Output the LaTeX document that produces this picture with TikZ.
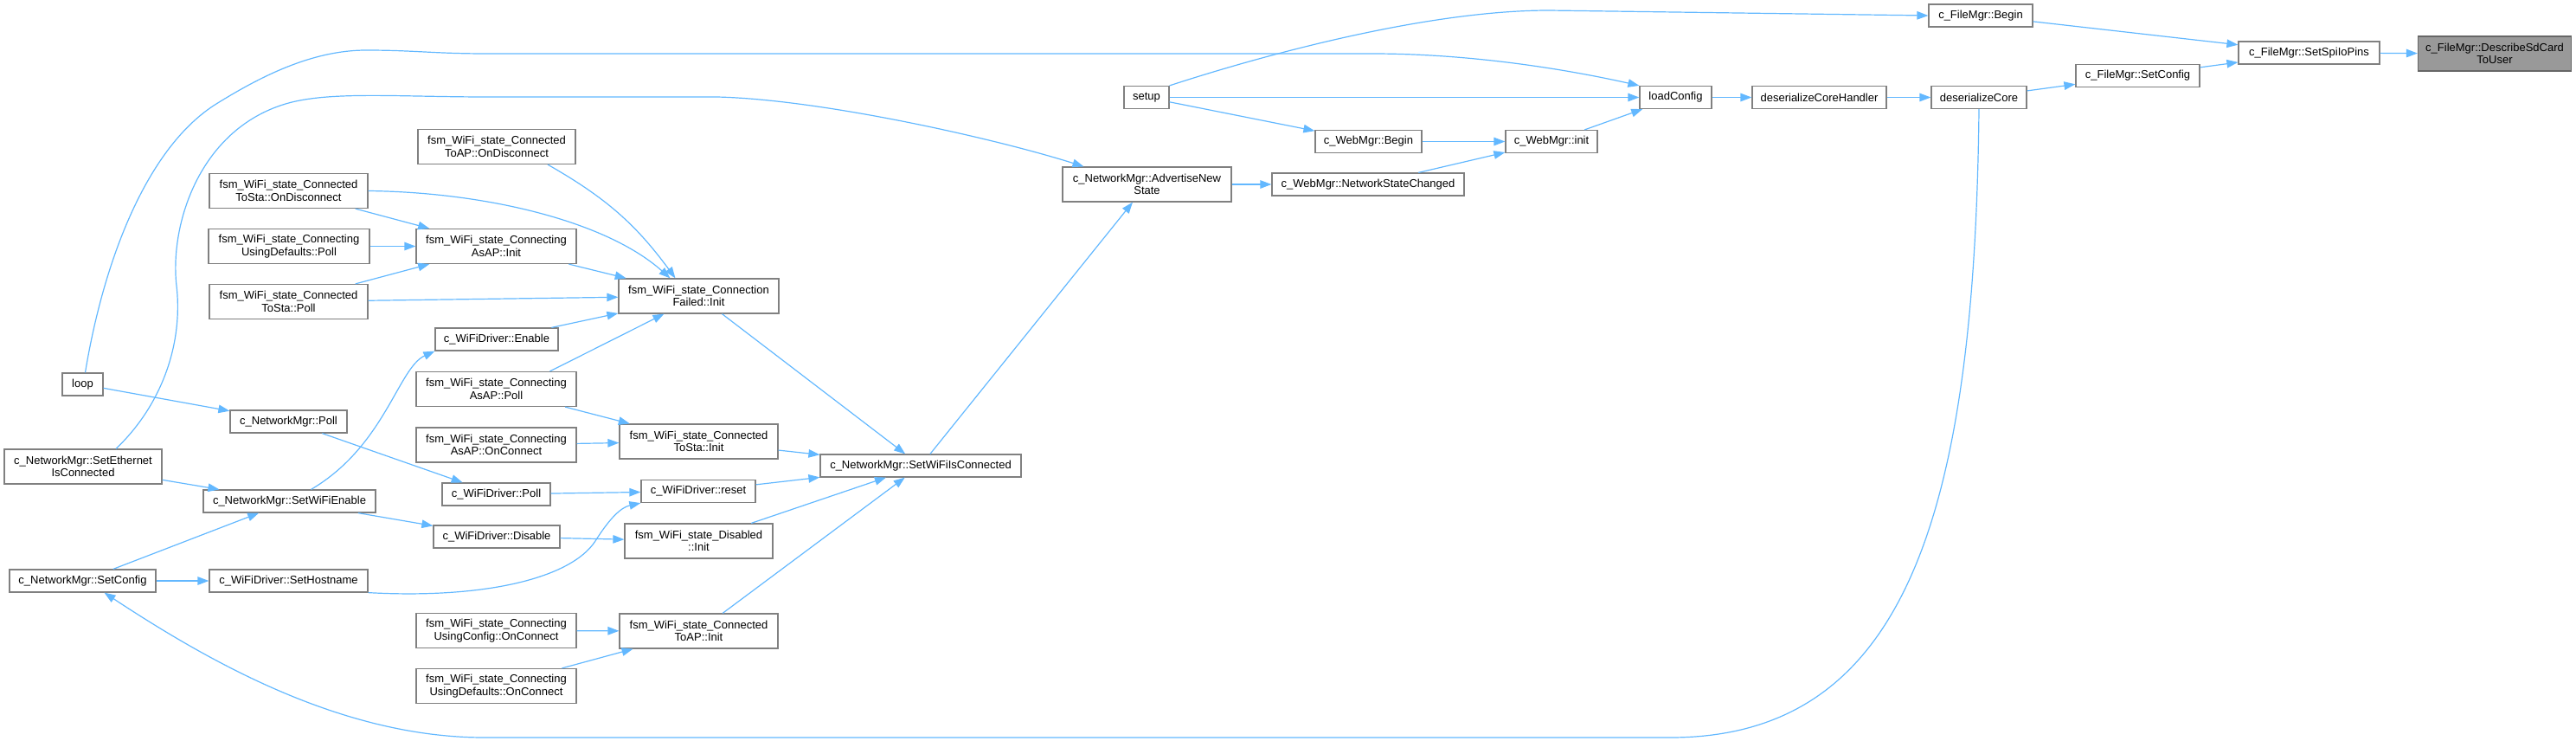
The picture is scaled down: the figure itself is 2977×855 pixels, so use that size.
\documentclass[tikz,border=0pt]{standalone}
\usepackage{fontspec}
\setmainfont{Liberation Sans}
\usetikzlibrary{arrows.meta}
\definecolor{edgeblue}{HTML}{63B8FF}
\definecolor{boxgray}{HTML}{808080}
\definecolor{hlborder}{HTML}{666666}
\definecolor{hlfill}{HTML}{999999}
\begin{document}
\begin{tikzpicture}[x=1pt,y=-1pt,
  box/.style={draw=boxgray, line width=1.2pt, fill=white, inner sep=0pt, align=center,
    font=\fontsize{13pt}{14.5pt}\selectfont, text=black, minimum height=26pt},
  two/.style={minimum height=40pt},
  hl/.style={fill=hlfill, draw=hlborder},
  e/.style={draw=edgeblue, line width=1.2pt, -{Triangle[length=13pt,width=9.5pt]}},
  ]
\useasboundingbox (0,0) rectangle (2977,855);
% nodes
\node[box,two,hl,minimum width=177pt] (desc) at (2883,62) {c\_FileMgr::DescribeSdCard\\ToUser};
\node[box,minimum width=163pt] (spi) at (2668.5,61) {c\_FileMgr::SetSpiIoPins};
\node[box,minimum width=120pt] (fbegin) at (2289,18) {c\_FileMgr::Begin};
\node[box,minimum width=143pt] (fsetcfg) at (2470.5,87.5) {c\_FileMgr::SetConfig};
\node[box,minimum width=52pt] (setup) at (1325,112.5) {setup};
\node[box,minimum width=83pt] (loadcfg) at (1936.5,112.5) {loadConfig};
\node[box,minimum width=155pt] (dch) at (2102.5,112.5) {deserializeCoreHandler};
\node[box,minimum width=110pt] (dc) at (2287,112.5) {deserializeCore};
\node[box,minimum width=123pt] (wbegin) at (1581.5,163.5) {c\_WebMgr::Begin};
\node[box,minimum width=106pt] (winit) at (1793,163.5) {c\_WebMgr::init};
\node[box,two,minimum width=195pt] (adv) at (1325.5,213) {c\_NetworkMgr::AdvertiseNew\\State};
\node[box,minimum width=222pt] (nsc) at (1581,213) {c\_WebMgr::NetworkStateChanged};
\node[box,minimum width=232pt] (swic) at (1064,538) {c\_NetworkMgr::SetWiFiIsConnected};
\node[box,two,minimum width=185pt] (cfinit) at (807.5,342) {fsm\_WiFi\_state\_Connection\\Failed::Init};
\node[box,two,minimum width=183pt] (stainit) at (807.5,510) {fsm\_WiFi\_state\_Connected\\ToSta::Init};
\node[box,minimum width=132pt] (reset) at (807,567.5) {c\_WiFiDriver::reset};
\node[box,two,minimum width=171pt] (disinit) at (807.5,625) {fsm\_WiFi\_state\_Disabled\\::Init};
\node[box,two,minimum width=183pt] (apinit) at (807.5,729) {fsm\_WiFi\_state\_Connected\\ToAP::Init};
\node[box,two,minimum width=182pt] (apdisc) at (574,169.5) {fsm\_WiFi\_state\_Connected\\ToAP::OnDisconnect};
\node[box,two,minimum width=183pt] (stadisc) at (333.5,220.5) {fsm\_WiFi\_state\_Connected\\ToSta::OnDisconnect};
\node[box,two,minimum width=186pt] (udpoll) at (334,284.5) {fsm\_WiFi\_state\_Connecting\\UsingDefaults::Poll};
\node[box,two,minimum width=185pt] (asapinit) at (573.5,284.5) {fsm\_WiFi\_state\_Connecting\\AsAP::Init};
\node[box,two,minimum width=183pt] (stapoll) at (333.5,348.5) {fsm\_WiFi\_state\_Connected\\ToSta::Poll};
\node[box,minimum width=142pt] (enable) at (574,392) {c\_WiFiDriver::Enable};
\node[box,two,minimum width=185pt] (asappoll) at (573.5,449.5) {fsm\_WiFi\_state\_Connecting\\AsAP::Poll};
\node[box,minimum width=47pt] (loop) at (95.5,444) {loop};
\node[box,minimum width=135pt] (nmpoll) at (333.5,487) {c\_NetworkMgr::Poll};
\node[box,two,minimum width=185pt] (asapconn) at (573.5,514) {fsm\_WiFi\_state\_Connecting\\AsAP::OnConnect};
\node[box,two,minimum width=182pt] (eth) at (96,539) {c\_NetworkMgr::SetEthernet\\IsConnected};
\node[box,minimum width=199pt] (wenable) at (334.5,579) {c\_NetworkMgr::SetWiFiEnable};
\node[box,minimum width=125pt] (dpoll) at (573.5,571) {c\_WiFiDriver::Poll};
\node[box,minimum width=146pt] (disable) at (574,620) {c\_WiFiDriver::Disable};
\node[box,minimum width=169pt] (nmcfg) at (95.5,671) {c\_NetworkMgr::SetConfig};
\node[box,minimum width=183pt] (host) at (333.5,671) {c\_WiFiDriver::SetHostname};
\node[box,two,minimum width=185pt] (ucconn) at (573.5,728.5) {fsm\_WiFi\_state\_Connecting\\UsingConfig::OnConnect};
\node[box,two,minimum width=185pt] (udconn) at (573.5,792.5) {fsm\_WiFi\_state\_Connecting\\UsingDefaults::OnConnect};
% edges
\draw[e] (spi) -- (desc);
\draw[e] (fbegin) -- (spi);
\draw[e] (fsetcfg) -- (spi);
\draw[e] (setup.north east) .. controls (1440,70) and (1640,12) .. (1790,12) -- (fbegin.west);
\draw[e] (dc) -- (fsetcfg);
\draw[e] (dch) -- (dc);
\draw[e] (loadcfg) -- (dch);
\draw[e] (setup) -- (loadcfg);
\draw[e] (setup) -- (wbegin);
\draw[e] (wbegin) -- (winit);
\draw[e] (winit) -- (loadcfg);
\draw[e] (nsc) -- (winit);
\draw[e] (adv) -- (nsc);
\draw[e] (swic) -- (adv);
\draw[e] (cfinit) -- (swic);
\draw[e] (stainit) -- (swic);
\draw[e] (reset) -- (swic);
\draw[e] (disinit) -- (swic);
\draw[e] (apinit) -- (swic);
\draw[e] ([xshift=59pt]apdisc.south) to[bend left=12] ([xshift=-27pt]cfinit.north);
\draw[e] (stadisc.east) .. controls (560,222) and (700,255) .. ([xshift=-33pt]cfinit.north);
\draw[e] (stadisc) -- (asapinit);
\draw[e] (udpoll) -- (asapinit);
\draw[e] (stapoll) -- (asapinit);
\draw[e] (stapoll) -- (cfinit);
\draw[e] (asapinit) -- (cfinit);
\draw[e] (enable) -- (cfinit);
\draw[e] ([xshift=62pt]asappoll.north) -- ([xshift=-40pt]cfinit.south);
\draw[e] (asappoll) -- (stainit);
\draw[e] (asapconn) -- (stainit);
\draw[e] ([xshift=25pt]wenable.north) .. controls (445,515) and (460,425) .. (enable.south west);
\draw[e] (loop) -- (nmpoll);
\draw[e] (nmpoll) -- (dpoll);
\draw[e] (dpoll) -- (reset);
\draw[e] (host.south east) .. controls (560,692) and (660,668) .. (688,625) .. controls (705,598) and (718,586) .. (reset.south west);
\draw[e] (eth) -- (wenable);
\draw[e] (wenable) -- (disable);
\draw[e] (disable) -- (disinit);
\draw[e] (nmcfg) -- (wenable);
\draw[e] (nmcfg) -- (host);
\draw[e] (ucconn) -- (apinit);
\draw[e] (udconn) -- (apinit);
\draw[e] (dc.south) .. controls (2282,600) and (2200,852) .. (1930,852) -- (560,852) .. controls (400,852) and (250,770) .. ([xshift=25pt]nmcfg.south);
\draw[e] ([xshift=38pt]eth.north) .. controls (185,470) and (212,400) .. (204,330) .. controls (196,260) and (230,150) .. (330,120) .. controls (380,105) and (460,112) .. (564,112) -- (829,112) .. controls (950,115) and (1150,160) .. ([xshift=-73pt]adv.north);
\draw[e] ([xshift=3pt]loop.north) .. controls (120,300) and (170,170) .. (250,120) .. controls (300,89) and (360,58) .. (423,58) .. controls (480,58) and (500,62) .. (564,62) -- (1586,62) .. controls (1700,62) and (1810,80) .. (loadcfg.north west);
\end{tikzpicture}
\end{document}
